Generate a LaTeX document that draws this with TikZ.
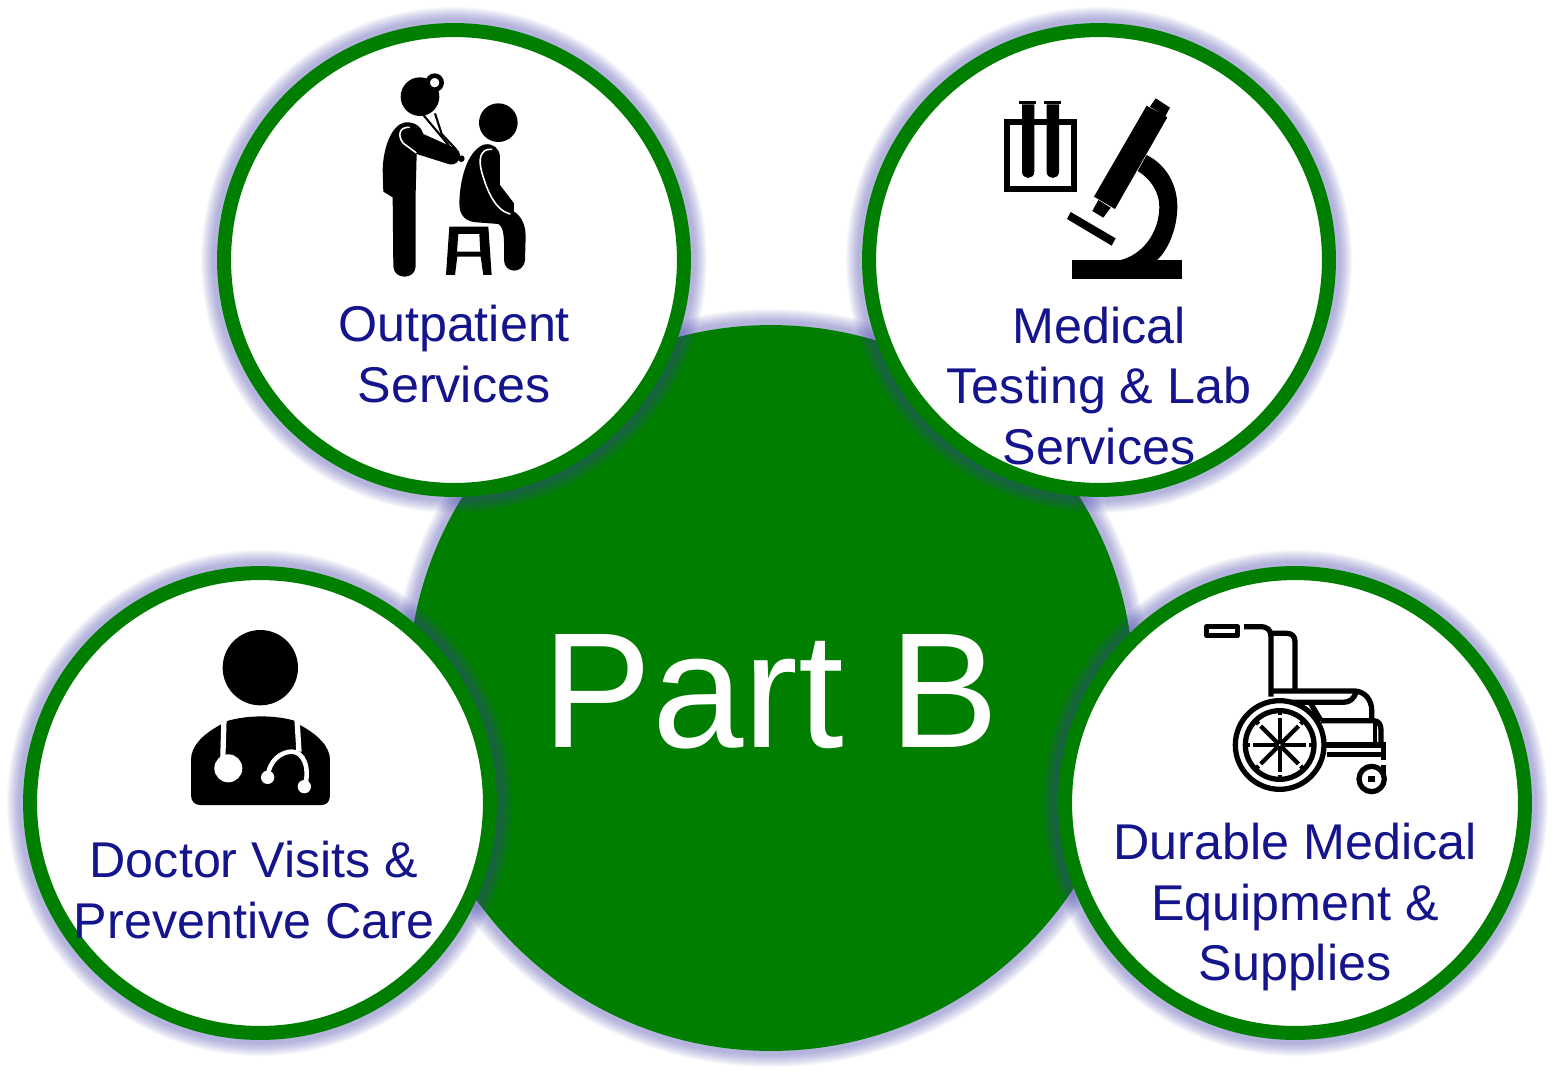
\documentclass[tikz,border=0pt]{standalone}
\usepackage{fontspec}
\setmainfont{Liberation Sans}
\definecolor{partgreen}{HTML}{007E00}
\definecolor{labelblue}{HTML}{14148C}
\definecolor{glowblue}{HTML}{4646AA}

\begin{document}
\begin{tikzpicture}[
  x=0.02cm, y=-0.02cm,
  hub/.style={circle, fill=partgreen, minimum size=14.52cm, inner sep=0pt},
  bubble/.style={circle, draw=partgreen, line width=0.28cm, fill=white, minimum size=9.2cm, inner sep=0pt},
  glowring/.style={glowblue, opacity=0.04},
  label/.style={text=labelblue, align=center, font=\fontsize{28.6}{34.4}\selectfont},
  title/.style={text=white, font=\fontsize{93.5}{100}\selectfont},
  crease/.style={white, line width=0.9pt, line cap=round},
  tool/.style={line width=3pt, line join=round},
  spoke/.style={line width=2.4pt},
]
\useasboundingbox (0,0) rectangle (1555,1075);

% center circle
\foreach \g in {4,...,16}
  \fill[glowring] (771,688) circle [radius=363+\g];
\node[hub] (partb) at (771,688) {};
\node[title] (partbtext) at (771,692) {Part B};

% outer circles
\foreach \name/\cx/\cy in {outpatient/454/260, testing/1099/260, doctor/260/803, durable/1295/803} {
  \foreach \g in {4,...,16}
    \fill[glowring] (\cx,\cy) circle [radius=237+\g];
  \node[bubble] (\name) at (\cx,\cy) {};
}

\node[label] (outpatienttext) at (454,354) {Outpatient\\Services};
\node[label] (testingtext) at (1099,386) {Medical\\Testing \& Lab\\Services};
\node[label] (doctortext) at (254,890) {Doctor Visits \&\\Preventive Care};
\node[label] (durabletext) at (1295,907) {Durable Medical\\Equipment \&\\Supplies};

% examination icon
\begin{scope}[shift={(360,60)}, x=0.00667cm, y=-0.00667cm]
  \fill (180,110) circle [radius=58];
  \fill (155,58) -- (205,66) -- (205,76) -- (155,68) -- cycle;
  \draw[line width=2.6pt, fill=white] (224,68) circle [radius=21];
  \draw[line width=1.2pt] (190,165) -- (268,258);
  \draw[line width=1.2pt] (225,160) -- (245,222) -- (288,268);
  \fill (135,187) .. controls (95,195) and (70,260) .. (68,330) -- (70,395) -- (98,412)
    -- (100,620) .. controls (102,660) and (165,660) .. (167,620) -- (167,400) -- (170,282)
    -- (265,312) .. controls (285,318) and (300,305) .. (300,285)
    .. controls (300,270) and (285,262) .. (270,258) -- (190,222)
    .. controls (185,205) and (170,185) .. (135,187) -- cycle;
  \fill (304,296) circle [radius=10];
  \draw[crease] (148,202) .. controls (120,200) and (110,225) .. (130,250) -- (168,278);
  \fill (415,188) circle [radius=58];
  \fill (375,253) .. controls (330,265) and (300,340) .. (298,430)
    .. controls (298,470) and (320,485) .. (350,487) -- (415,492)
    .. controls (435,505) and (432,540) .. (432,600)
    .. controls (432,640) and (490,645) .. (495,600) -- (497,530)
    .. controls (497,490) and (480,465) .. (462,455) -- (462,430) -- (420,375) -- (420,290)
    .. controls (418,265) and (400,250) .. (375,253) -- cycle;
  \draw[crease] (395,268) .. controls (360,265) and (355,300) .. (365,335)
    .. controls (380,390) and (405,450) .. (450,462);
  \fill[even odd rule] (268,500) -- (385,500) -- (395,645) -- (370,645) -- (362,590)
    -- (292,590) -- (285,645) -- (258,645) -- cycle
    (295,522) -- (358,522) -- (361,575) -- (291,575) -- cycle;
\end{scope}

% microscope icon
\begin{scope}[shift={(990,85)}, x=0.00667cm, y=-0.00667cm]
  \draw[line width=3.4pt] (51,110) rectangle (252,311);
  \fill (88,47) rectangle (138,58);
  \fill (163,47) rectangle (213,58);
  \fill (96,58) -- (133,58) -- (133,260) .. controls (133,285) and (96,285) .. (96,260) -- cycle;
  \fill (170,58) -- (207,58) -- (207,260) .. controls (207,285) and (170,285) .. (170,260) -- cycle;
  \fill (497,40) -- (540,68) -- (525,95) -- (480,65) -- cycle;
  \fill (470,62) -- (532,97) -- (375,372) -- (312,335) -- cycle;
  \fill (325,345) -- (362,368) -- (340,398) -- (307,378) -- cycle;
  \fill (242,381) -- (377,460) -- (365,482) -- (231,402) -- cycle;
  \fill (470,210) .. controls (530,240) and (562,300) .. (562,365)
    .. controls (562,430) and (535,495) .. (500,526) -- (388,526)
    .. controls (460,510) and (508,440) .. (508,365)
    .. controls (508,320) and (480,280) .. (443,258) -- cycle;
  \fill (246,525) rectangle (577,581);
\end{scope}

% doctor icon
\begin{scope}[shift={(175,620)}, x=0.00667cm, y=-0.00667cm]
  \fill (256,143) circle [radius=113];
  \fill (135,315) .. controls (80,345) and (48,380) .. (48,420) -- (48,525)
    .. controls (48,545) and (60,555) .. (75,555) -- (440,555)
    .. controls (455,555) and (465,545) .. (465,525) -- (465,420)
    .. controls (465,380) and (430,345) .. (375,315) -- (358,302)
    .. controls (300,285) and (220,285) .. (160,302) -- cycle;
  \draw[white, line width=3pt] (147,298) -- (143,430);
  \fill[white] (160,445) circle [radius=42];
  \draw[white, line width=3pt] (366,298) -- (372,395);
  \draw[white, line width=2.6pt] (278,472) .. controls (282,420) and (320,395) .. (350,395)
    .. controls (385,395) and (405,440) .. (390,500);
  \fill[white] (278,472) circle [radius=20];
  \fill[white] (388,500) circle [radius=20];
\end{scope}

% wheelchair icon
\begin{scope}[shift={(1195,615)}, x=0.00667cm, y=-0.00667cm]
  \draw[tool] (35,35) rectangle (127,62);
  \draw[tool] (147,35) -- (195,35) .. controls (218,35) and (228,45) .. (228,65) -- (228,245);
  \draw[tool] (228,55) -- (275,55) .. controls (292,55) and (300,65) .. (300,80) -- (300,228);
  \draw[tool] (228,228) -- (480,228) .. controls (510,230) and (530,255) .. (530,285) -- (530,317);
  \draw[tool] (290,262) -- (445,262) .. controls (465,262) and (478,250) .. (484,230);
  \draw[tool] (345,262) -- (378,317);
  \draw[tool] (378,317) -- (535,317) .. controls (550,317) and (558,328) .. (558,345) -- (558,390);
  \draw[line width=1.8pt] (540,320) -- (540,388);
  \draw[tool] (385,390) -- (568,390);
  \draw[tool] (395,418) -- (568,418);
  \draw[tool] (566,380) -- (566,434);
  \draw[tool] (566,450) -- (566,480);
  \draw[tool, fill=white] (530,492) circle [radius=38];
  \fill (520,482) rectangle (540,502);
  \draw[tool, fill=white] (254,390) circle [radius=133];
  \draw[tool] (254,390) circle [radius=103];
  \foreach \a in {0,45,...,315} {
    \draw[spoke] (254,390) -- ++(\a:80);
    \draw[spoke] (254,390) ++(\a:103) -- ++(\a:-14);
  }
  \draw[spoke, fill=white] (254,390) circle [radius=10];
\end{scope}

\end{tikzpicture}
\end{document}
